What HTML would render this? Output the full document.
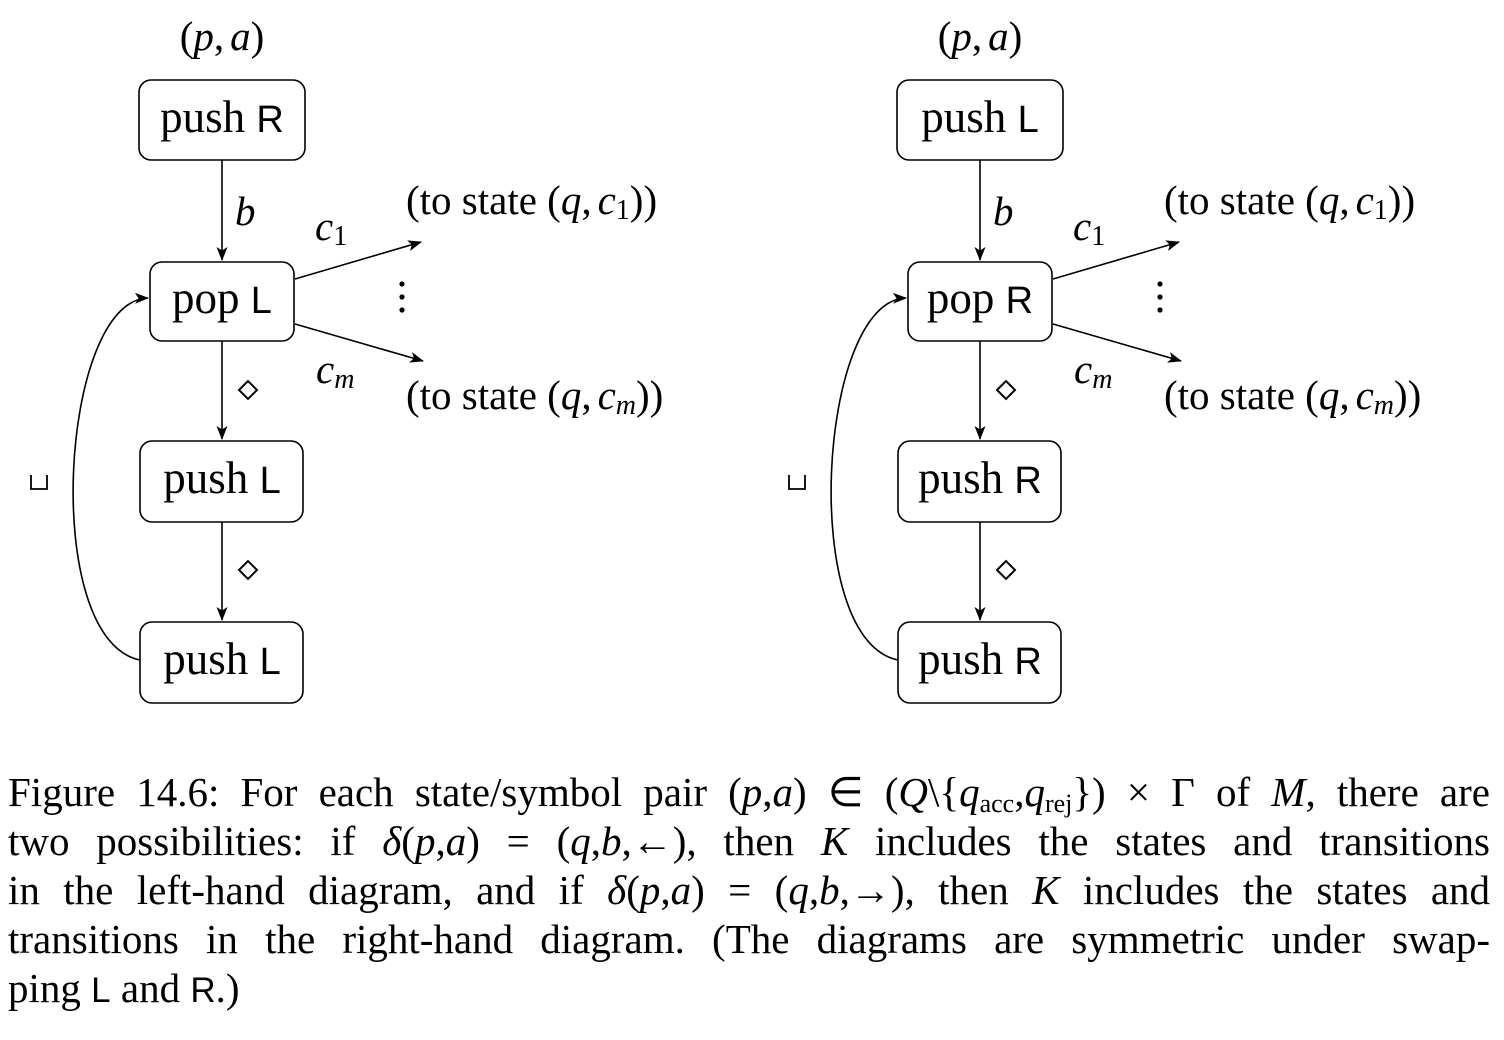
<!DOCTYPE html>
<html><head><meta charset="utf-8"><style>
html,body{margin:0;padding:0;background:#fff;width:1504px;height:1040px;overflow:hidden}
svg{position:absolute;left:0;top:0}
.cap{position:absolute;left:8px;width:1482px;font-family:"Liberation Serif",serif;font-size:41px;color:#000;line-height:49px;top:768px}
.cap div{text-align:justify;text-align-last:justify;white-space:nowrap;height:49px}
.cap div.last{text-align-last:left}
.s{font-family:"Liberation Sans",sans-serif;font-size:35px}
i{font-style:italic}
sub{font-size:26px;vertical-align:-6px;line-height:0}
</style></head><body>
<svg width="1504" height="760" viewBox="0 0 1504 760" xmlns="http://www.w3.org/2000/svg">
<defs>
<marker id="a" markerWidth="14" markerHeight="11" refX="13" refY="5.5" orient="auto" markerUnits="userSpaceOnUse">
<path d="M0,0 L14,5.5 L0,11 L3.5,5.5 z" fill="#000"/></marker>
<g id="d" font-family="Liberation Serif, serif" fill="#000">
<text x="222" y="50" font-size="41" text-anchor="middle">(<tspan font-style="italic">p</tspan>,<tspan font-style="italic" dx="6">a</tspan>)</text>
<g fill="none" stroke="#000" stroke-width="1.6">
<rect x="139" y="80" width="166" height="80" rx="12"/>
<rect x="150" y="262" width="144" height="79" rx="12"/>
<rect x="140" y="441" width="163" height="81" rx="12"/>
<rect x="140" y="622" width="163" height="81" rx="12"/>
<line x1="222" y1="160" x2="222" y2="260" marker-end="url(#a)"/>
<line x1="222" y1="341" x2="222" y2="439" marker-end="url(#a)"/>
<line x1="222" y1="522" x2="222" y2="620" marker-end="url(#a)"/>
<line x1="295" y1="279" x2="421" y2="242" marker-end="url(#a)"/>
<line x1="295" y1="324" x2="423" y2="361" marker-end="url(#a)"/>
<path d="M140,660 C40,640 60,300 148,298" marker-end="url(#a)"/>
<path d="M239,390 L248,381 L257,390 L248,399 z" stroke-width="2"/>
<path d="M239,570 L248,561 L257,570 L248,579 z" stroke-width="2"/>
<path d="M31,475 L31,489 L47,489 L47,475" stroke-width="1.8"/>
</g>
<text x="235" y="225" font-size="41" font-style="italic">b</text>
<text x="315" y="240" font-size="41" font-style="italic">c<tspan font-size="28" font-style="normal" dy="5">1</tspan></text>
<text x="316" y="383" font-size="41" font-style="italic">c<tspan font-size="28" dy="5">m</tspan></text>
<circle cx="402" cy="284" r="2.6"/><circle cx="402" cy="297" r="2.6"/><circle cx="402" cy="310" r="2.6"/>
<text x="406" y="214" font-size="41">(to state (<tspan font-style="italic">q</tspan>,<tspan font-style="italic" dx="6">c</tspan><tspan font-size="28" dy="5">1</tspan><tspan dy="-5">))</tspan></text>
<text x="406" y="409" font-size="41">(to state (<tspan font-style="italic">q</tspan>,<tspan font-style="italic" dx="6">c</tspan><tspan font-size="28" font-style="italic" dy="5">m</tspan><tspan dy="-5">))</tspan></text>
</g>
</defs>
<use href="#d"/>
<use href="#d" transform="translate(758,0)"/>
<g font-size="45" text-anchor="middle" fill="#000">
<text x="222" y="132"><tspan font-family="Liberation Serif, serif">push </tspan><tspan font-family="Liberation Sans, sans-serif" font-size="38">R</tspan></text>
<text x="222" y="313"><tspan font-family="Liberation Serif, serif">pop </tspan><tspan font-family="Liberation Sans, sans-serif" font-size="38">L</tspan></text>
<text x="222" y="493"><tspan font-family="Liberation Serif, serif">push </tspan><tspan font-family="Liberation Sans, sans-serif" font-size="38">L</tspan></text>
<text x="222" y="674"><tspan font-family="Liberation Serif, serif">push </tspan><tspan font-family="Liberation Sans, sans-serif" font-size="38">L</tspan></text>
<text x="980" y="132"><tspan font-family="Liberation Serif, serif">push </tspan><tspan font-family="Liberation Sans, sans-serif" font-size="38">L</tspan></text>
<text x="980" y="313"><tspan font-family="Liberation Serif, serif">pop </tspan><tspan font-family="Liberation Sans, sans-serif" font-size="38">R</tspan></text>
<text x="980" y="493"><tspan font-family="Liberation Serif, serif">push </tspan><tspan font-family="Liberation Sans, sans-serif" font-size="38">R</tspan></text>
<text x="980" y="674"><tspan font-family="Liberation Serif, serif">push </tspan><tspan font-family="Liberation Sans, sans-serif" font-size="38">R</tspan></text>
</g>
</svg>
<div class="cap">
<div>Figure 14.6: For each state/symbol pair (<i>p</i>,<i>a</i>) ∈ (<i>Q</i>\{<i>q</i><sub>acc</sub>,<i>q</i><sub>rej</sub>}) × Γ of <i>M</i>, there are</div>
<div>two possibilities: if <i>δ</i>(<i>p</i>,<i>a</i>) = (<i>q</i>,<i>b</i>,←), then <i>K</i> includes the states and transitions</div>
<div>in the left-hand diagram, and if <i>δ</i>(<i>p</i>,<i>a</i>) = (<i>q</i>,<i>b</i>,→), then <i>K</i> includes the states and</div>
<div>transitions in the right-hand diagram. (The diagrams are symmetric under swap-</div>
<div class="last">ping <span class="s">L</span> and <span class="s">R</span>.)</div>
</div>
</body></html>
